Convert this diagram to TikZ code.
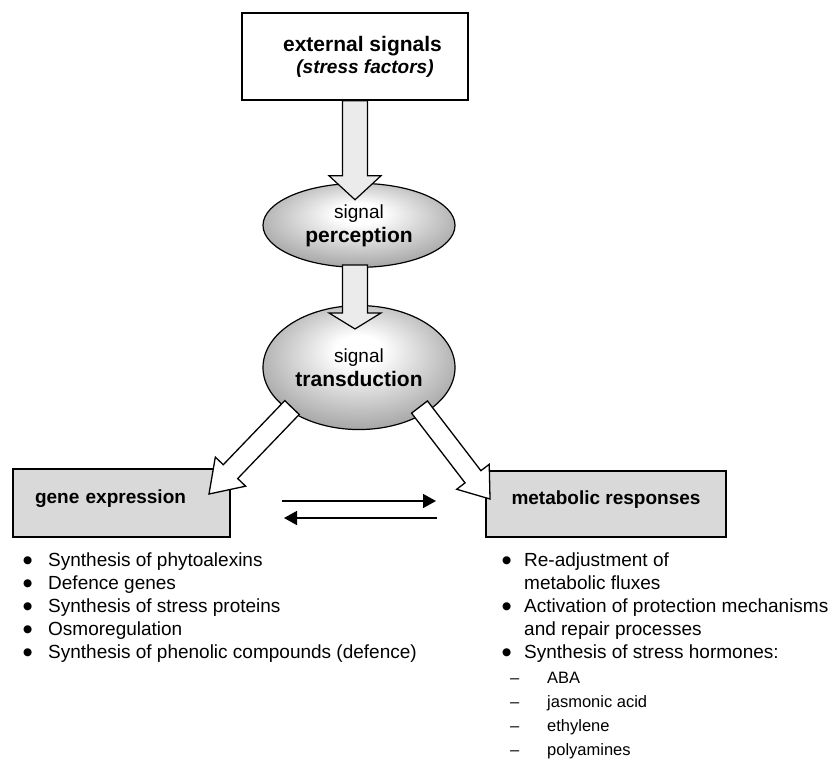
\documentclass[tikz,border=0pt]{standalone}
\usepackage{fontspec}
\setmainfont{Liberation Sans}
\newfontfamily\symfont{DejaVu Sans}
\usetikzlibrary{positioning,arrows.meta,shapes.geometric,calc}
\newcommand{\headfont}{\fontsize{21pt}{22pt}\selectfont\bfseries}
\newcommand{\dotmark}{\raisebox{2.5pt}{\symfont\fontsize{10.5pt}{11pt}\selectfont ●}}
\pgfdeclareradialshading{glow}{\pgfpoint{0bp}{8bp}}{color(0bp)=(white); color(6bp)=(white);
  color(28bp)=(black!34); color(50bp)=(black!34)}
% block arrow: [style]{start}{tip}{half shaft}{half head}{head length}
\newcommand{\fatarrow}[6][]{%
  \coordinate (fa-h) at ($(#3)!#6!(#2)$);
  \draw[#1] ($(#2)!#4!90:(#3)$) -- ($(fa-h)!#4!-90:(#2)$) -- ($(fa-h)!#5!-90:(#2)$) -- (#3)
    -- ($(fa-h)!#5!90:(#2)$) -- ($(fa-h)!#4!90:(#2)$) -- ($(#2)!#4!-90:(#3)$) -- cycle;}

\begin{document}
\begin{tikzpicture}[x=1pt, y=-1pt,
  font=\fontsize{19pt}{23pt}\selectfont,
  sigbox/.style={draw, line width=1.5pt, fill=white, minimum width=226pt, minimum height=87pt,
                 align=center, inner sep=0pt},
  cell/.style={draw, line width=1.2pt, ellipse, inner sep=0pt, shading=glow,
               align=center, minimum width=192pt},
  resp/.style={draw, line width=2pt, fill=black!15, minimum height=68pt, text height=8pt,
               text depth=8pt, inner sep=0pt},
  flow/.style={draw, line width=1.2pt, fill=black!8},
  split/.style={draw, line width=1.3pt, fill=white},
  twoway/.style={line width=1.5pt, -{Triangle[length=13pt,width=14pt]}},
  items/.style={anchor=base west, inner sep=0pt}]
\useasboundingbox (0,0) rectangle (834,763);

\node (ext) [sigbox] at (355,56.5)
  {\hspace*{15pt}{\headfont external signals}\\[-1pt]\hspace*{20pt}\textbf{\textit{(stress factors)}}};
\node (perc) [cell, minimum height=84pt, below=82pt of ext, xshift=4pt]
  {signal\\[1pt]{\headfont perception}};
\node (trans) [cell, minimum height=124pt, below=37pt of perc]
  {signal\\[1pt]{\headfont transduction}};

\node (gene) [resp, minimum width=217pt, text width=173pt, inner xsep=22pt, align=left]
  at (121.5,503) {\textbf{gene expression}};
\node (meta) [resp, minimum width=240pt, minimum height=66pt] at (606,504)
  {\textbf{metabolic responses}};

\node (glist) [items] at (23,566) {\begin{tabular}[t]{@{}p{25pt}@{}l@{}}
  \dotmark & Synthesis of phytoalexins\\
  \dotmark & Defence genes\\
  \dotmark & Synthesis of stress proteins\\
  \dotmark & Osmoregulation\\
  \dotmark & Synthesis of phenolic compounds (defence)
\end{tabular}};
\node (mlist) [items] at (502,566) {\begin{tabular}[t]{@{}p{22pt}@{}l@{}}
  \dotmark & Re-adjustment of\\
           & metabolic fluxes\\
  \dotmark & Activation of protection mechanisms\\
           & and repair processes\\
  \dotmark & Synthesis of stress hormones:
\end{tabular}};
\node (hlist) [items, font=\fontsize{16.5pt}{24pt}\selectfont] at (510,683)
  {\begin{tabular}[t]{@{}p{37pt}@{}l@{}}
  \textendash & ABA\\
  \textendash & jasmonic acid\\
  \textendash & ethylene\\
  \textendash & polyamines
\end{tabular}};

% block arrows
\coordinate (t1) at ($(ext.south |- perc.north)+(0,17)$);
\coordinate (s2) at ($(ext.south |- perc.south)+(0,-3)$);
\coordinate (t2) at ($(ext.south |- trans.north)+(0,24)$);
\coordinate (s3) at ($(trans)+(-67,40)$);
\coordinate (t3) at ($(gene.east)+(-22,-9)$);
\coordinate (s4) at ($(trans)+(60.5,39.5)$);
\coordinate (t4) at ($(meta.west)+(5,-5)$);
\fatarrow[flow]{ext.south}{t1}{12.5pt}{26pt}{24pt}
\fatarrow[flow]{s2}{t2}{12.5pt}{26pt}{16pt}
\fatarrow[split]{s3}{t3}{10pt}{21pt}{31pt}
\fatarrow[split]{s4}{t4}{10pt}{20.5pt}{28pt}

% exchange between the two responses
\coordinate (g1) at ([yshift=2pt]gene.east);
\coordinate (g2) at ([yshift=-15pt]gene.east);
\draw[twoway, shorten <=51pt, shorten >=49pt] (g1) -- (g1 -| meta.west);
\draw[twoway, shorten <=48pt, shorten >=53pt] (g2 -| meta.west) -- (g2);
\end{tikzpicture}
\end{document}
